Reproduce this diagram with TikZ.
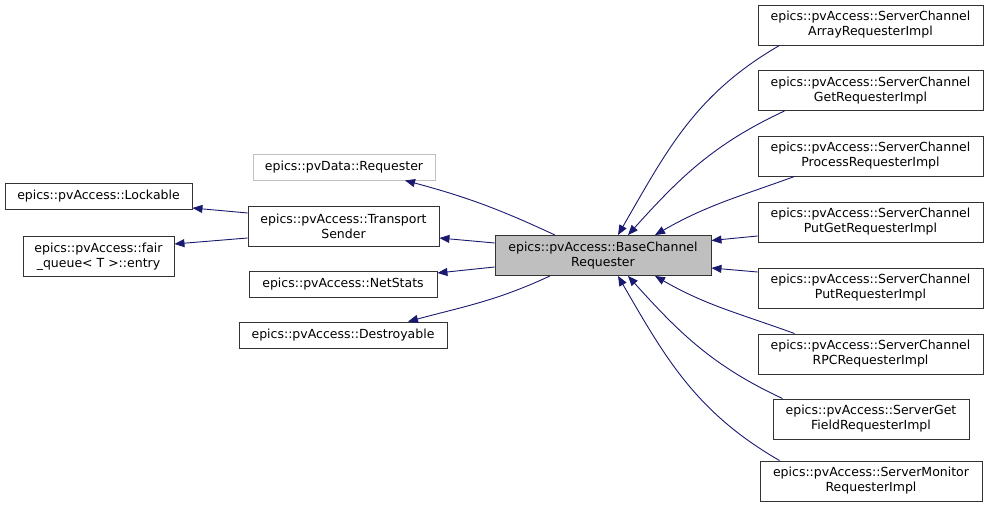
\documentclass[tikz,border=0pt]{standalone}
\usepackage{fontspec}
\setmainfont{DejaVu Sans}
\usetikzlibrary{arrows.meta}

\begin{document}
\begin{tikzpicture}[x=1pt, y=1pt, >={Triangle[length=10pt,width=8pt]}]
  \definecolor{edgeblue}{HTML}{191970}
  \definecolor{boxgray}{HTML}{BFBFBF}
  \tikzstyle{cls}=[draw=black!80, line width=0.9pt, inner sep=0pt, align=center,
    font=\fontsize{12.5}{15}\selectfont, minimum height=26pt]
  \tikzstyle{cls2}=[cls, minimum height=40pt]
  \tikzstyle{inherit}=[<-, draw=edgeblue, fill=none, line width=0.9pt]

  \useasboundingbox (0,0) rectangle (989,509);

  % base classes on the left
  \node[cls, minimum width=187pt] (lockable) at (98.5,313) {epics::pvAccess::Lockable};
  \node[cls2, minimum width=151pt] (entry) at (98.5,252.5) {epics::pvAccess::fair\\\_queue< T >::entry};
  \node[cls, draw=boxgray, minimum width=182pt] (requester) at (344,342) {epics::pvData::Requester};
  \node[cls2, minimum width=191pt] (sender) at (343.5,283) {epics::pvAccess::Transport\\Sender};
  \node[cls, minimum width=188pt] (netstats) at (343,225) {epics::pvAccess::NetStats};
  \node[cls, minimum width=208pt] (destroyable) at (343,174) {epics::pvAccess::Destroyable};

  % the class itself
  \node[cls2, fill=boxgray, minimum width=216pt] (base) at (603,253.5) {epics::pvAccess::BaseChannel\\Requester};

  % derived classes on the right
  \node[cls2, minimum width=225pt] (array) at (870.5,484) {epics::pvAccess::ServerChannel\\ArrayRequesterImpl};
  \node[cls2, minimum width=225pt] (get) at (870.5,418.5) {epics::pvAccess::ServerChannel\\GetRequesterImpl};
  \node[cls2, minimum width=225pt] (process) at (870.5,353) {epics::pvAccess::ServerChannel\\ProcessRequesterImpl};
  \node[cls2, minimum width=225pt] (putget) at (870.5,287) {epics::pvAccess::ServerChannel\\PutGetRequesterImpl};
  \node[cls2, minimum width=225pt] (put) at (870.5,221) {epics::pvAccess::ServerChannel\\PutRequesterImpl};
  \node[cls2, minimum width=225pt] (rpc) at (870.5,155) {epics::pvAccess::ServerChannel\\RPCRequesterImpl};
  \node[cls2, minimum width=196pt] (getfield) at (871,90) {epics::pvAccess::ServerGet\\FieldRequesterImpl};
  \node[cls2, minimum width=222pt] (monitor) at (871,28) {epics::pvAccess::ServerMonitor\\RequesterImpl};

  \draw[inherit] ([yshift=-12pt]lockable.east) -- ([yshift=13pt]sender.west);
  \draw[inherit] ([yshift=12.5pt]entry.east) -- ([yshift=-12pt]sender.west);

  \draw[inherit] ([xshift=61pt]requester.south) to[out=-15,in=155] ([xshift=-48pt]base.north);
  \draw[inherit] ([yshift=-12pt]sender.east) -- ([yshift=12.5pt]base.west);
  \draw[inherit] ([yshift=11pt]netstats.east) -- ([yshift=-11.5pt]base.west);
  \draw[inherit] ([xshift=65pt]destroyable.north) to[out=15,in=-155] ([xshift=-53pt]base.south);

  \draw[inherit] ([xshift=15pt]base.north) to[out=60,in=-150] ([xshift=22pt]array.south west);
  \draw[inherit] ([xshift=25pt]base.north) to[out=48,in=-155] ([xshift=27pt]get.south west);
  \draw[inherit] ([xshift=52pt]base.north) to[out=30,in=-160] ([xshift=37pt]process.south west);
  \draw[inherit] ([yshift=15pt]base.east) -- ([yshift=-14pt]putget.west);
  \draw[inherit] ([yshift=-12.5pt]base.east) -- ([yshift=16pt]put.west);
  \draw[inherit] ([xshift=52pt]base.south) to[out=-30,in=160] ([xshift=37pt]rpc.north west);
  \draw[inherit] ([xshift=25pt]base.south) to[out=-48,in=155] ([xshift=10pt]getfield.north west);
  \draw[inherit] ([xshift=15pt]base.south) to[out=-60,in=150] ([xshift=20pt]monitor.north west);
\end{tikzpicture}
\end{document}
